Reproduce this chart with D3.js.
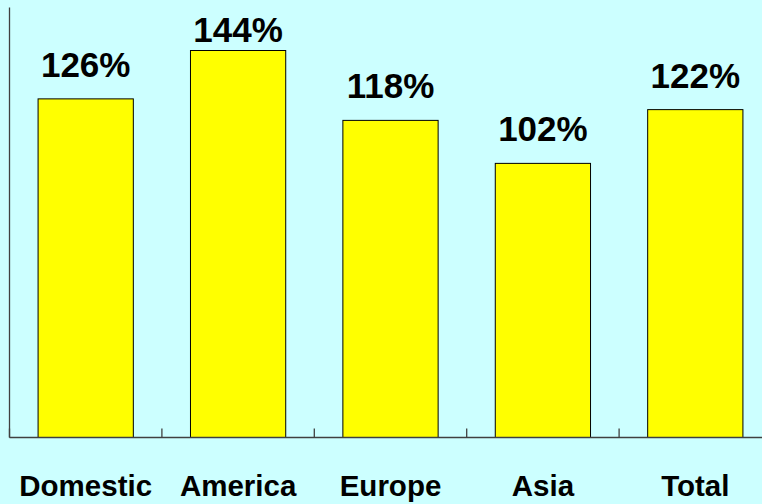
<!DOCTYPE html>
<html>
<head>
<meta charset="utf-8">
<script src="https://cdn.jsdelivr.net/npm/d3@7"></script>
<style>
  html, body { margin: 0; padding: 0; background: #CCFFFF; }
  svg { display: block; }
</style>
</head>
<body>
<svg id="chart" width="762" height="504"></svg>
<script>
const categories = ["Domestic", "America", "Europe", "Asia", "Total"];
const values = [126, 144, 118, 102, 122];
const valueLabels = ["126%", "144%", "118%", "102%", "122%"];

const W = 762, H = 504;
const svg = d3.select("#chart");
svg.append("rect").attr("width", W).attr("height", H).attr("fill", "#CCFFFF");

const x = d3.scaleBand().domain(categories).range([9.5, 771.5]).padding(0);
const y = d3.scaleLinear().domain([0, 160]).range([437.5, 7.5]);
const barW = x.bandwidth() * 0.625;

// bars
svg.selectAll("rect.bar").data(categories).enter().append("rect")
  .attr("class", "bar")
  .attr("x", (d) => x(d) + (x.bandwidth() - barW) / 2)
  .attr("y", (d, i) => y(values[i]))
  .attr("width", barW)
  .attr("height", (d, i) => y(0) - y(values[i]))
  .attr("fill", "#FFFF00")
  .attr("stroke", "#000")
  .attr("stroke-width", 1);

// y axis line
svg.append("line")
  .attr("x1", 9.5).attr("x2", 9.5)
  .attr("y1", y(160)).attr("y2", y(0))
  .attr("stroke", "#404040").attr("stroke-width", 1.3);

// x axis line
svg.append("line")
  .attr("x1", 9.5).attr("x2", 771.5)
  .attr("y1", y(0)).attr("y2", y(0))
  .attr("stroke", "#404040").attr("stroke-width", 1.3);

// ticks at band boundaries (pointing up)
const boundaries = categories.map(d => x(d)).concat([x(categories[categories.length - 1]) + x.bandwidth()]);
svg.selectAll("line.tick").data(boundaries).enter().append("line")
  .attr("class", "tick")
  .attr("x1", d => d).attr("x2", d => d)
  .attr("y1", y(0)).attr("y2", y(0) - 9)
  .attr("stroke", "#404040").attr("stroke-width", 1.3);

// value labels
svg.selectAll("text.val").data(categories).enter().append("text")
  .attr("class", "val")
  .attr("x", d => x(d) + x.bandwidth() / 2)
  .attr("y", (d, i) => Math.max(y(values[i]) - 22, 42))
  .attr("text-anchor", "middle")
  .attr("font-family", "'Liberation Sans', Arial, sans-serif")
  .attr("font-weight", "bold")
  .attr("font-size", 35)
  .attr("fill", "#000")
  .text((d, i) => valueLabels[i]);

// category labels
svg.selectAll("text.cat").data(categories).enter().append("text")
  .attr("class", "cat")
  .attr("x", d => x(d) + x.bandwidth() / 2)
  .attr("y", 496)
  .attr("text-anchor", "middle")
  .attr("font-family", "'Liberation Sans', Arial, sans-serif")
  .attr("font-weight", "bold")
  .attr("font-size", 29.5)
  .attr("fill", "#000")
  .text(d => d);
</script>
</body>
</html>
